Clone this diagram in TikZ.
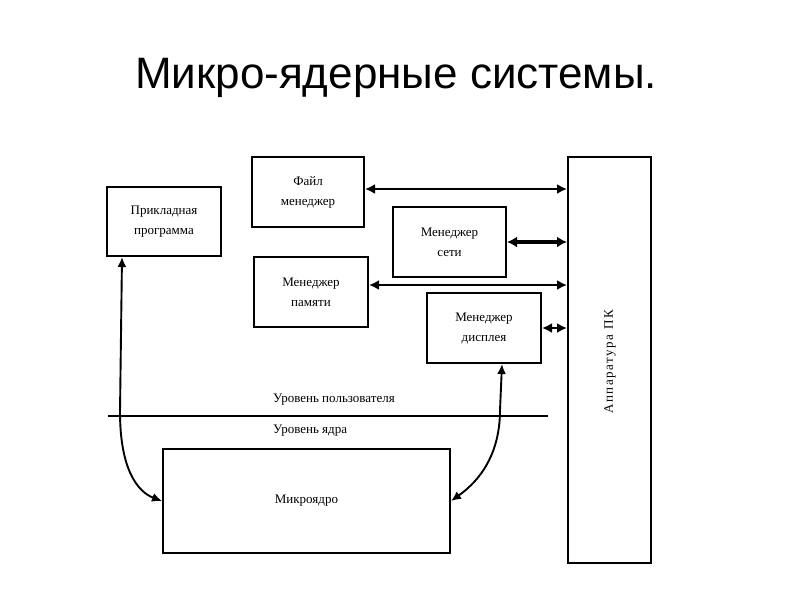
\documentclass[tikz,border=0pt]{standalone}
\usepackage{fontspec}
\setmainfont{Liberation Serif}
\newfontfamily\titlefont{Liberation Sans}
\usetikzlibrary{arrows.meta}
\begin{document}
\begin{tikzpicture}[x=1pt,y=-1pt,
  box/.style={draw, line width=2pt, inner sep=0pt, align=center,
    font=\fontsize{13}{20}\selectfont},
  lbl/.style={font=\fontsize{13}{15}\selectfont, inner sep=0pt},
  link/.style={line width=2.8pt, {Latex[length=10pt,width=10pt]}-{Latex[length=10pt,width=10pt]}},
  thicklink/.style={line width=4.2pt, {Latex[length=10pt,width=11pt]}-{Latex[length=10pt,width=11pt]}},
  curvelink/.style={line width=1.9pt, {Latex[length=10pt,width=9pt]}-{Latex[length=10pt,width=9pt]}},
  level/.style={line width=2.8pt}]
\useasboundingbox[fill=white] (0,0) rectangle (794,595);

\node[font=\titlefont\fontsize{44}{48}\selectfont, inner sep=0pt] (title) at (396,78) {Микро-ядерные системы.};

\node[box, minimum width=114pt, minimum height=69pt] (app) at (164,221.5) {Прикладная\\программа};
\node[box, minimum width=112pt, minimum height=70pt] (file) at (308,192) {Файл\\менеджер};
\node[box, minimum width=114pt, minimum height=70pt] (mem) at (311,292) {Менеджер\\памяти};
\node[box, minimum width=113pt, minimum height=70pt] (net) at (449.5,242) {Менеджер\\сети};
\node[box, minimum width=114pt, minimum height=70pt] (disp) at (484,328) {Менеджер\\дисплея};
\node[box, minimum width=83pt, minimum height=406pt] (hw) at (609.5,360) {};
\node[lbl, rotate=90, font=\fontsize{13}{15}\selectfont\addfontfeature{LetterSpace=12}] (hwlabel) at (610,362) {Аппаратура ПК};
\node[box, minimum width=287pt, minimum height=104pt] (kern) at (306.5,501) {Микроядро};

\coordinate (lineL) at (108,416);
\coordinate (lineR) at (548,416);
\draw[level] (lineL) -- (lineR);
\node[lbl, anchor=west] (user) at (273,400) {Уровень пользователя};
\node[lbl, anchor=west] (core) at (273,431) {Уровень ядра};

\draw[link] ([yshift=3pt]file.east) -- ([yshift=3pt]file.east -| hw.west);
\draw[thicklink] (net.east) -- (net.east -| hw.west);
\draw[link] ([yshift=7pt]mem.east) -- ([yshift=7pt]mem.east -| hw.west);
\draw[link] (disp.east) -- (disp.east -| hw.west);

\coordinate (lbend) at (120,412);
\coordinate (rbend) at (500,410);
\draw[curvelink] ([xshift=-42pt]app.south) -- (lbend) .. controls (120,470) and (138,492) .. (kern.west);
\draw[curvelink] ([xshift=18pt]disp.south) -- (rbend) .. controls (500,462) and (472,486) .. (kern.east);
\end{tikzpicture}
\end{document}
